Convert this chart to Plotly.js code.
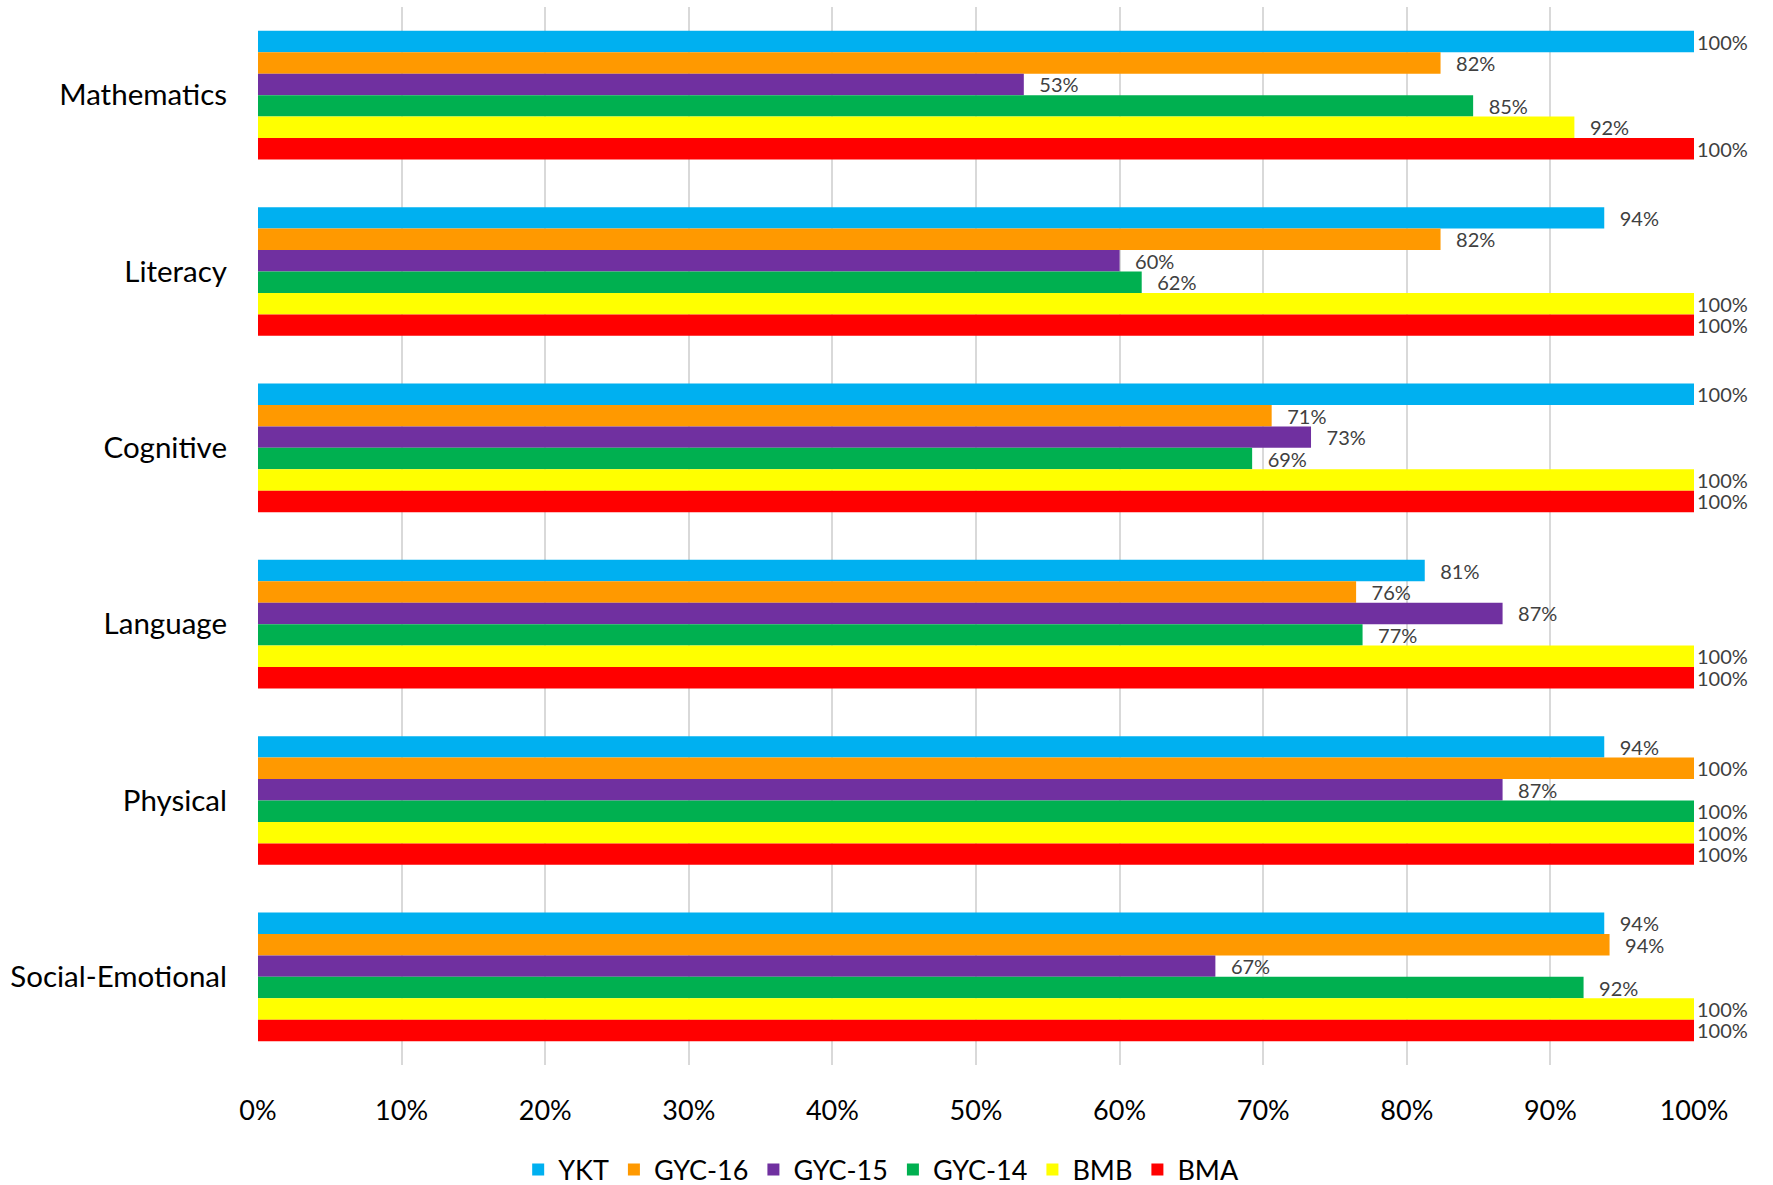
<!DOCTYPE html>
<html>
<head>
<meta charset="utf-8">
<script src="https://cdn.plot.ly/plotly-3.0.1.min.js"></script>
<style>html,body{margin:0;padding:0;background:#fff;}#chart{width:1773px;height:1185px;}</style>
</head>
<body>
<div id="chart"></div>
<script>
const categories = ["Mathematics", "Literacy", "Cognitive", "Language", "Physical", "Social-Emotional"];
const seriesNames = ["YKT", "GYC-16", "GYC-15", "GYC-14", "BMB", "BMA"];
const YKT    = [1.00, 0.9375, 1.00, 0.8125, 0.9375, 0.9375];
const GYC16  = [0.8235, 0.8235, 0.7059, 0.7647, 1.00, 0.9412];
const GYC15  = [0.5333, 0.60, 0.7333, 0.8667, 0.8667, 0.6667];
const GYC14  = [0.8462, 0.6154, 0.6923, 0.7692, 1.00, 0.9231];
const BMB    = [0.9167, 1.00, 1.00, 1.00, 1.00, 1.00];
const BMA    = [1.00, 1.00, 1.00, 1.00, 1.00, 1.00];
const xTickVals = [0, 0.1, 0.2, 0.3, 0.4, 0.5, 0.6, 0.7, 0.8, 0.9, 1.0];
const xTickText = ["0%", "10%", "20%", "30%", "40%", "50%", "60%", "70%", "80%", "90%", "100%"];

const seriesValues = [YKT, GYC16, GYC15, GYC14, BMB, BMA];
const colors = ["#00B0F0", "#FF9900", "#7030A0", "#00B050", "#FFFF00", "#FF0000"];
const FONT = "Lato, 'Open Sans', sans-serif";

function labelFor(v) {
  const pct = Math.round(v * 100) + "%";
  // labels of shorter bars sit a little further from the bar end, as in the original
  return v < 0.995 ? "\u2002\u2009" + pct : pct;
}

const traces = seriesNames.map((name, i) => ({
  type: "bar",
  orientation: "h",
  name: name,
  y: categories,
  x: seriesValues[i],
  marker: {color: colors[i], line: {width: 0}},
  text: seriesValues[i].map(labelFor),
  textposition: "outside",
  cliponaxis: false,
  constraintext: "none",
  textfont: {family: FONT, size: 20, color: "#404040"},
  hoverinfo: "x+name"
}));

const layout = {
  width: 1773,
  height: 1185,
  margin: {l: 258, r: 79, t: 7, b: 120, autoexpand: false},
  paper_bgcolor: "#ffffff",
  plot_bgcolor: "#ffffff",
  barmode: "group",
  bargap: 0.27,
  bargroupgap: 0,
  showlegend: true,
  legend: {
    orientation: "h",
    xref: "container",
    yref: "container",
    x: 0.497,
    xanchor: "center",
    y: 0.0127,
    yanchor: "middle",
    font: {family: FONT, size: 27, color: "#000000"},
    traceorder: "normal",
    itemwidth: 30
  },
  xaxis: {
    range: [0, 1],
    tickvals: xTickVals,
    ticktext: xTickText,
    tickangle: 0,
    showgrid: true,
    gridcolor: "#d9d9d9",
    gridwidth: 2,
    zeroline: false,
    showline: false,
    ticks: "",
    ticklabelstandoff: 27,
    tickfont: {family: FONT, size: 27, color: "#000000"}
  },
  yaxis: {
    autorange: "reversed",
    type: "category",
    showgrid: false,
    zeroline: false,
    showline: false,
    ticks: "",
    ticklabelstandoff: 30,
    tickfont: {family: FONT, size: 29.5, color: "#000000"}
  }
};

Plotly.newPlot("chart", traces, layout, {displayModeBar: false, staticPlot: true});
</script>
</body>
</html>
